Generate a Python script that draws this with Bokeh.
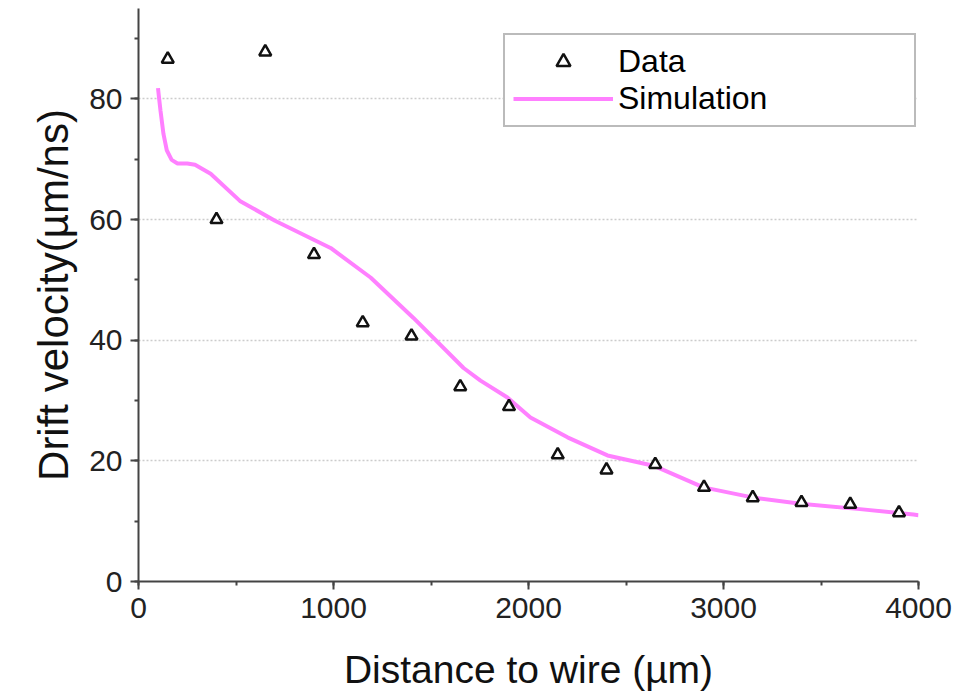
from bokeh.plotting import figure
from bokeh.models import Range1d, Legend, LegendItem, SingleIntervalTicker, FixedTicker
from bokeh.embed import file_html
from bokeh.resources import INLINE

data_x = [150, 400, 650, 900, 1150, 1400, 1650, 1900, 2150, 2400, 2650, 2900, 3150, 3400, 3650, 3900]
data_y = [86.6, 60.0, 87.8, 54.2, 42.9, 40.7, 32.3, 29.0, 21.0, 18.5, 19.4, 15.6, 13.9, 13.1, 12.8, 11.4]

sim_x = [100, 106, 113, 128, 145, 170, 200, 250, 290, 370, 520, 700, 985, 1190, 1410, 1667, 1754, 1892, 2010, 2200, 2405, 2641, 2897, 3154, 3395, 3700, 3974, 4000]
sim_y = [81.8, 80.0, 78.0, 74.2, 71.5, 69.9, 69.3, 69.3, 69.1, 67.6, 63.1, 59.8, 55.3, 50.4, 43.7, 35.4, 33.3, 30.5, 27.2, 23.9, 20.9, 19.2, 15.6, 13.9, 12.9, 12.0, 11.1, 11.0]

x_ticks = [0, 1000, 2000, 3000, 4000]
y_ticks = [0, 20, 40, 60, 80]

FONT = "Liberation Sans"

p = figure(width=959, height=696, output_backend="svg", toolbar_location=None,
           x_range=Range1d(0, 4000), y_range=Range1d(0, 95),
           min_border_left=138, min_border_right=41, min_border_top=8, min_border_bottom=115)
p.outline_line_color = None
p.background_fill_color = "white"
p.border_fill_color = "white"

line = p.line(sim_x, sim_y, line_color="#ff80ff", line_width=4)
pts = p.scatter(data_x, data_y, marker="triangle", size=12, fill_color="white",
                line_color="#111111", line_width=2.5)

for ax in (p.xaxis[0], p.yaxis[0]):
    ax.axis_line_color = "#444444"
    ax.axis_line_width = 2
    ax.major_tick_line_color = "#444444"
    ax.major_tick_line_width = 2
    ax.minor_tick_line_color = "#444444"
    ax.minor_tick_line_width = 2
    ax.major_tick_out = 8
    ax.major_tick_in = 0
    ax.minor_tick_out = 4
    ax.minor_tick_in = 0
    ax.major_label_text_font = FONT
    ax.major_label_text_font_size = "30px"
    ax.major_label_text_color = "#222222"
    ax.axis_label_text_font = FONT
    ax.axis_label_text_font_style = "normal"
    ax.axis_label_text_color = "#111111"

p.xaxis[0].ticker = SingleIntervalTicker(interval=1000, num_minor_ticks=2)
p.yaxis[0].ticker = SingleIntervalTicker(interval=20, num_minor_ticks=2)
p.xaxis[0].axis_label = "Distance to wire (µm)"
p.yaxis[0].axis_label = "Drift velocity(µm/ns)"
p.xaxis[0].axis_label_text_font_size = "39px"
p.yaxis[0].axis_label_text_font_size = "42px"
p.xaxis[0].major_label_standoff = 8
p.yaxis[0].major_label_standoff = 8
p.xaxis[0].axis_label_standoff = 27
p.yaxis[0].axis_label_standoff = 9

p.xgrid.visible = False
p.ygrid.ticker = FixedTicker(ticks=y_ticks[1:])
p.ygrid.grid_line_color = "#cccccc"
p.ygrid.grid_line_width = 1.5
p.ygrid.grid_line_dash = "2 2"

legend = Legend(items=[LegendItem(label="Data", renderers=[pts]),
                       LegendItem(label="Simulation", renderers=[line])],
                location=(365, 454))
legend.label_text_font = FONT
legend.label_text_font_size = "32px"
legend.label_text_color = "#000000"
legend.border_line_color = "#777777"
legend.border_line_width = 2
legend.background_fill_alpha = 1
legend.padding = 8
legend.spacing = 0
legend.margin = 0
legend.glyph_width = 100
legend.glyph_height = 35
legend.label_standoff = 5
legend.label_width = 288
legend.label_height = 35
p.add_layout(legend, "center")

open("out.html", "w").write(file_html(p, INLINE))
